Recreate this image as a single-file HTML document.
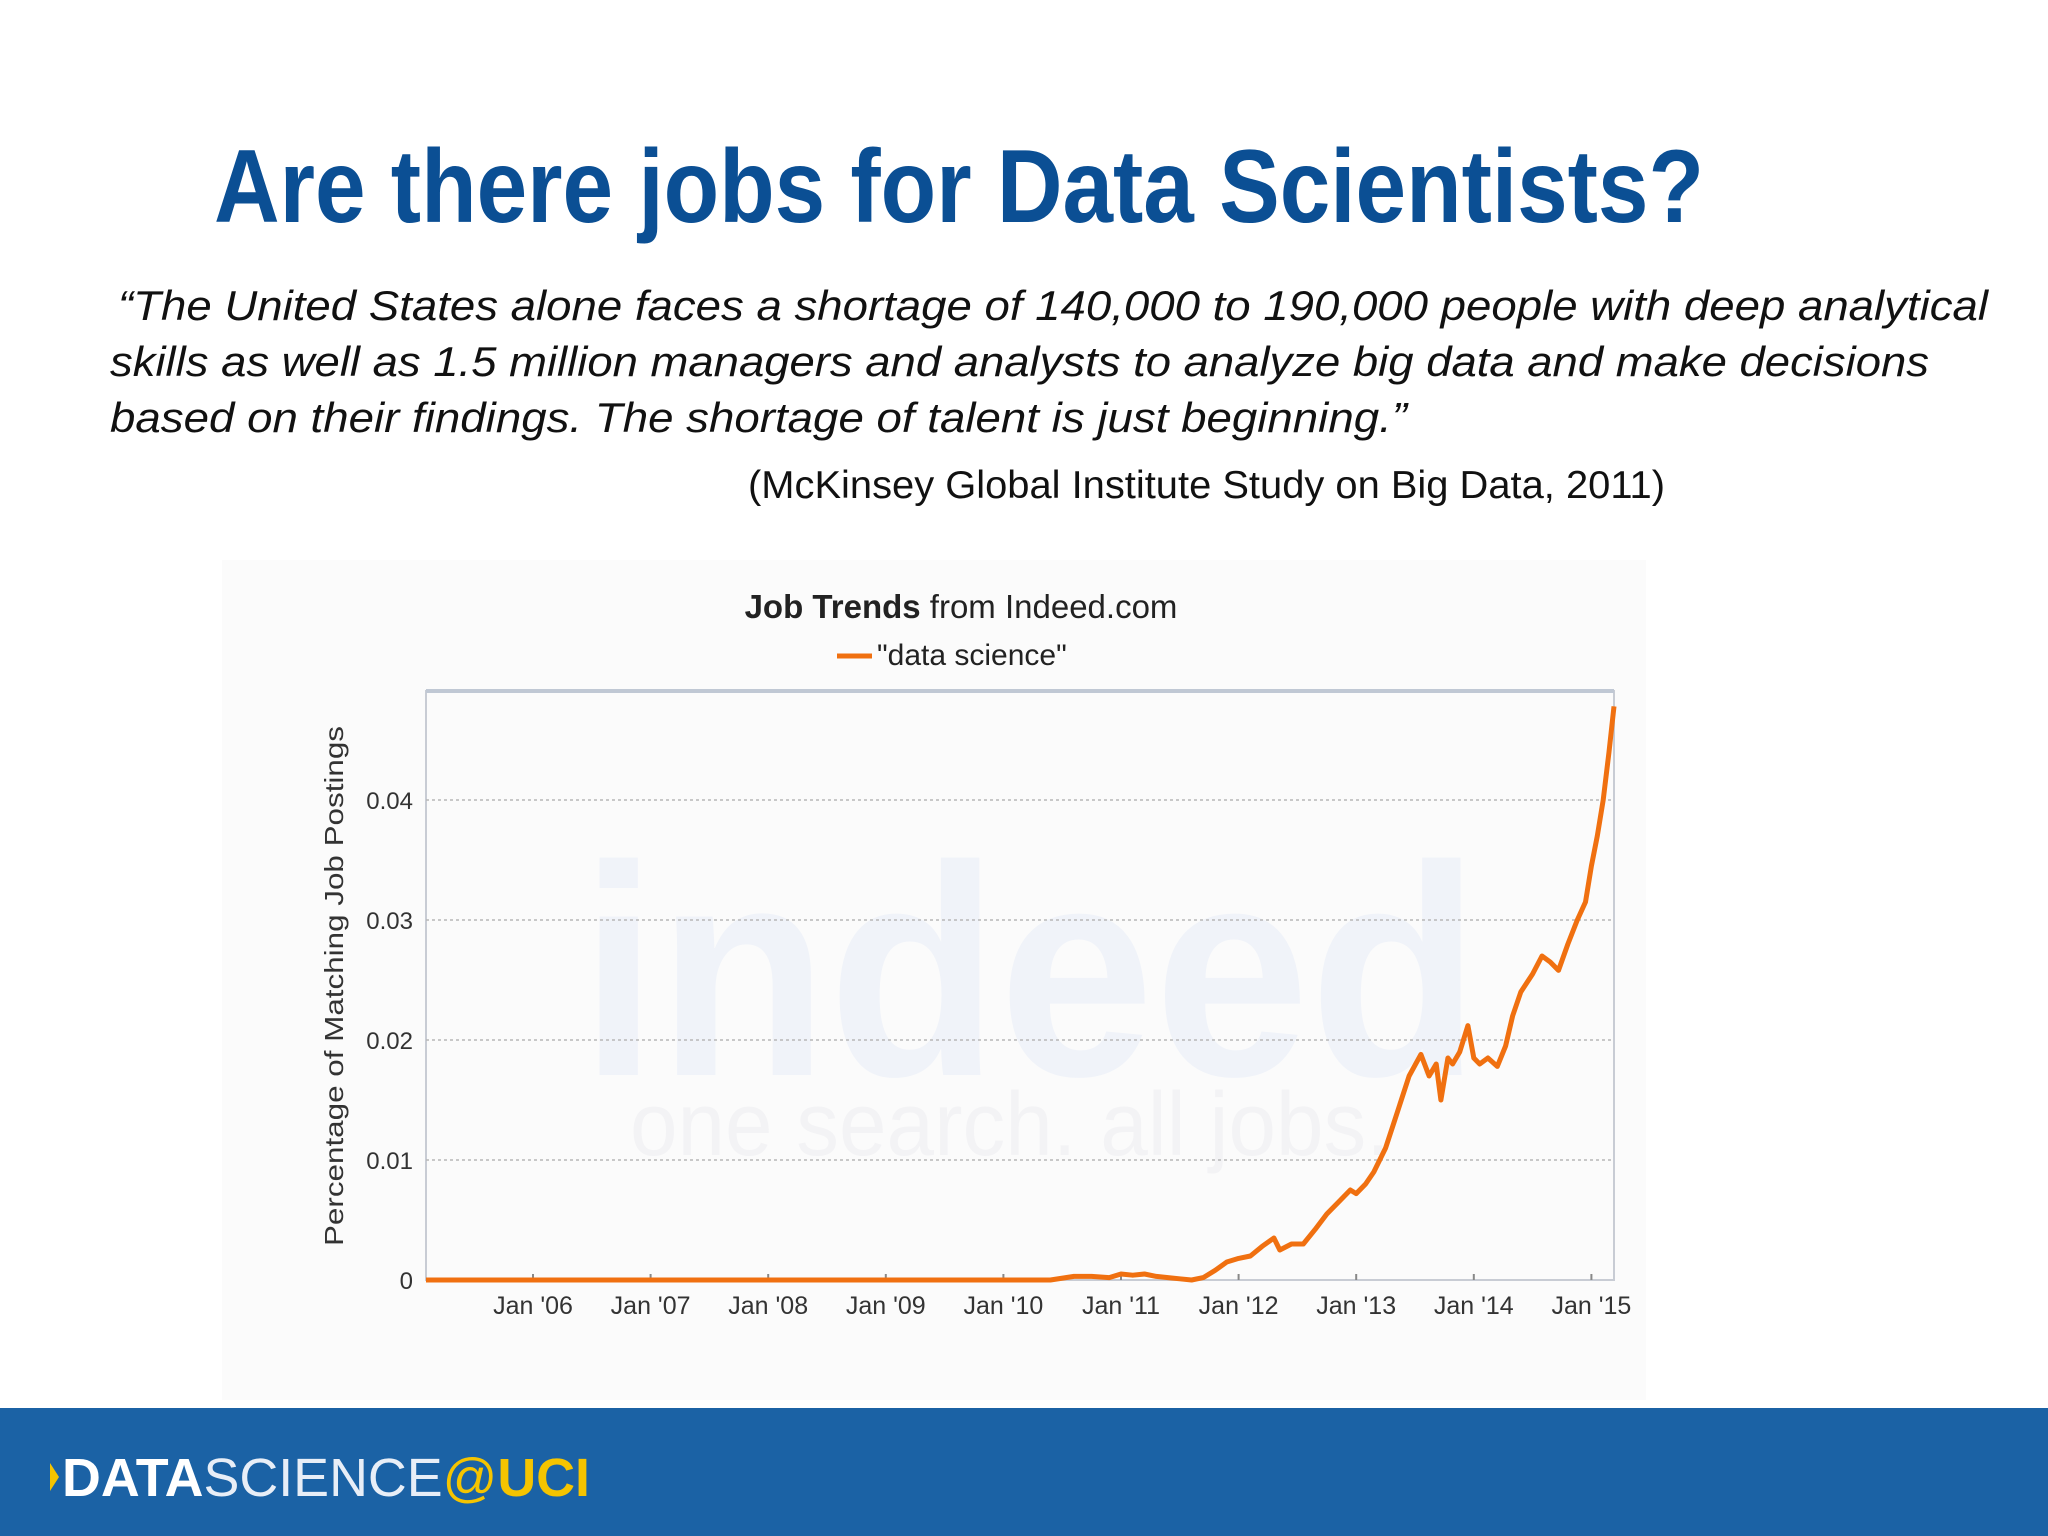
<!DOCTYPE html>
<html><head><meta charset="utf-8"><style>
html,body{margin:0;padding:0;background:#fff;}
svg{display:block;}
text{font-family:"Liberation Sans",Arial,sans-serif;}
</style></head><body>
<svg id="slide" width="2048" height="1536" viewBox="0 0 2048 1536" xmlns="http://www.w3.org/2000/svg">
<rect x="0" y="0" width="2048" height="1536" fill="#ffffff"/>
<rect x="222" y="560" width="1424" height="840" fill="#fbfbfb"/>
<text x="214" y="222" font-size="104" font-weight="bold" fill="#0b4f94" textLength="1490" lengthAdjust="spacingAndGlyphs">Are there jobs for Data Scientists?</text>
<g font-size="42" font-style="italic" fill="#111">
<text x="118" y="320" textLength="1870" lengthAdjust="spacingAndGlyphs">“The United States alone faces a shortage of 140,000 to 190,000 people with deep analytical</text>
<text x="110" y="376" textLength="1819" lengthAdjust="spacingAndGlyphs">skills as well as 1.5 million managers and analysts to analyze big data and make decisions</text>
<text x="110" y="432" textLength="1297" lengthAdjust="spacingAndGlyphs">based on their findings. The shortage of talent is just beginning.”</text>
</g>
<text x="748" y="498" font-size="39" fill="#111" textLength="917" lengthAdjust="spacingAndGlyphs">(McKinsey Global Institute Study on Big Data, 2011)</text>

<g id="chart"></g>

<rect x="0" y="1408" width="2048" height="128" fill="#1b62a5"/>
<g>
<polygon points="50,1463 50,1491 59,1477" fill="#f5c400"/>
<text x="62" y="1496" font-size="54" fill="#fff" textLength="528" lengthAdjust="spacingAndGlyphs"><tspan font-weight="bold">DATA</tspan><tspan font-weight="normal" fill="#e8eef7">SCIENCE</tspan><tspan fill="#f5c400">@</tspan><tspan font-weight="bold" fill="#f5c400">UCI</tspan></text>
</g>
</svg>
<script>
const years = [2005,2006,2007,2008,2009,2010,2010.4,2010.6,2010.75,2010.9,2011.0,2011.1,2011.2,2011.3,2011.4,2011.5,2011.6,2011.7,2011.8,2011.9,2012.0,2012.1,2012.2,2012.3,2012.35,2012.45,2012.55,2012.65,2012.75,2012.85,2012.95,2013.0,2013.08,2013.15,2013.25,2013.35,2013.45,2013.55,2013.62,2013.68,2013.72,2013.78,2013.82,2013.88,2013.95,2014.0,2014.05,2014.12,2014.2,2014.27,2014.33,2014.4,2014.5,2014.58,2014.65,2014.72,2014.8,2014.88,2014.95,2015.0,2015.05,2015.1,2015.15,2015.2];
const values = [0,0,0,0,0,0,0,0.0003,0.0003,0.0002,0.0005,0.0004,0.0005,0.0003,0.0002,0.0001,0.0,0.0002,0.0008,0.0015,0.0018,0.0020,0.0028,0.0035,0.0025,0.0030,0.0030,0.0042,0.0055,0.0065,0.0075,0.0072,0.0080,0.0090,0.0110,0.0140,0.0170,0.0188,0.0170,0.0180,0.0150,0.0185,0.0180,0.0190,0.0212,0.0185,0.0180,0.0185,0.0178,0.0195,0.0220,0.0240,0.0255,0.0270,0.0265,0.0258,0.0280,0.0300,0.0315,0.0345,0.0370,0.0400,0.0440,0.0478];
const yTicks = [0,0.01,0.02,0.03,0.04];
const yTickLabels = ["0","0.01","0.02","0.03","0.04"];
const xTicks = [2006,2007,2008,2009,2010,2011,2012,2013,2014,2015];
const xTickLabels = ["Jan '06","Jan '07","Jan '08","Jan '09","Jan '10","Jan '11","Jan '12","Jan '13","Jan '14","Jan '15"];

const NS="http://www.w3.org/2000/svg";
const g=document.getElementById('chart');
const L=426,R=1614,T=691,B=1280;
const xs=v=>533+(v-2006)*117.6;
const ys=v=>B-v*12000;
function mk(tag,attrs,parent){const e=document.createElementNS(NS,tag);for(const k in attrs)e.setAttribute(k,attrs[k]);(parent||g).appendChild(e);return e;}

let w=mk('text',{x:1030,y:1075,'font-size':300,'font-weight':'bold',fill:'#f0f3f9','text-anchor':'middle',textLength:900,lengthAdjust:'spacingAndGlyphs'});
w.textContent='indeed';


let w2=mk('text',{x:1010,y:1155,'font-size':90,fill:'#f3f3f5','text-anchor':'middle',textLength:760,lengthAdjust:'spacingAndGlyphs'});
w2.textContent='one search. all jobs.';



let t=mk('text',{x:961,y:618,'font-size':33,fill:'#222','text-anchor':'middle'});
t.innerHTML='<tspan font-weight="bold">Job Trends</tspan> from Indeed.com';


let lg=mk('line',{x1:837,y1:656,x2:872,y2:656,stroke:'#f07010','stroke-width':5});


let lt=mk('text',{x:877,y:665,'font-size':30,fill:'#222'});
lt.textContent='"data science"';



let fr=mk('rect',{x:L,y:T,width:R-L,height:B-T,fill:'none',stroke:'#c8ccd4','stroke-width':2});


let tb=mk('line',{x1:L,y1:T,x2:R,y2:T,stroke:'#c0c8d4','stroke-width':4});



yTicks.forEach((v,i)=>{
  if(v>0){let gl=mk('line',{x1:L,y1:ys(v),x2:R,y2:ys(v),stroke:'#b8b8b8','stroke-width':1.5,'stroke-dasharray':'3,3'});
  
  }
  let tl=mk('text',{x:413,y:ys(v)+9,'font-size':24,fill:'#333','text-anchor':'end'});
  tl.textContent=yTickLabels[i];
  
  
});
xTicks.forEach((v,i)=>{
  let tk=mk('line',{x1:xs(v),y1:B,x2:xs(v),y2:B-6,stroke:'#888','stroke-width':2});
  
  
  let tl=mk('text',{x:xs(v),y:1314,'font-size':25,fill:'#333','text-anchor':'middle'});
  tl.textContent=xTickLabels[i];
  
  
});
let yl=mk('text',{x:0,y:0,'font-size':26,fill:'#333','text-anchor':'middle',transform:'translate(343,986) rotate(-90)',textLength:520,lengthAdjust:'spacingAndGlyphs'});
yl.textContent='Percentage of Matching Job Postings';



let d='';
years.forEach((yr,i)=>{const x=Math.max(L,Math.min(R,xs(yr)));d+=(i?'L':'M')+x.toFixed(1)+','+ys(values[i]).toFixed(1);});
let p=mk('path',{d:d,fill:'none',stroke:'#f07010','stroke-width':5,'stroke-linejoin':'round'});


</script>
</body></html>
